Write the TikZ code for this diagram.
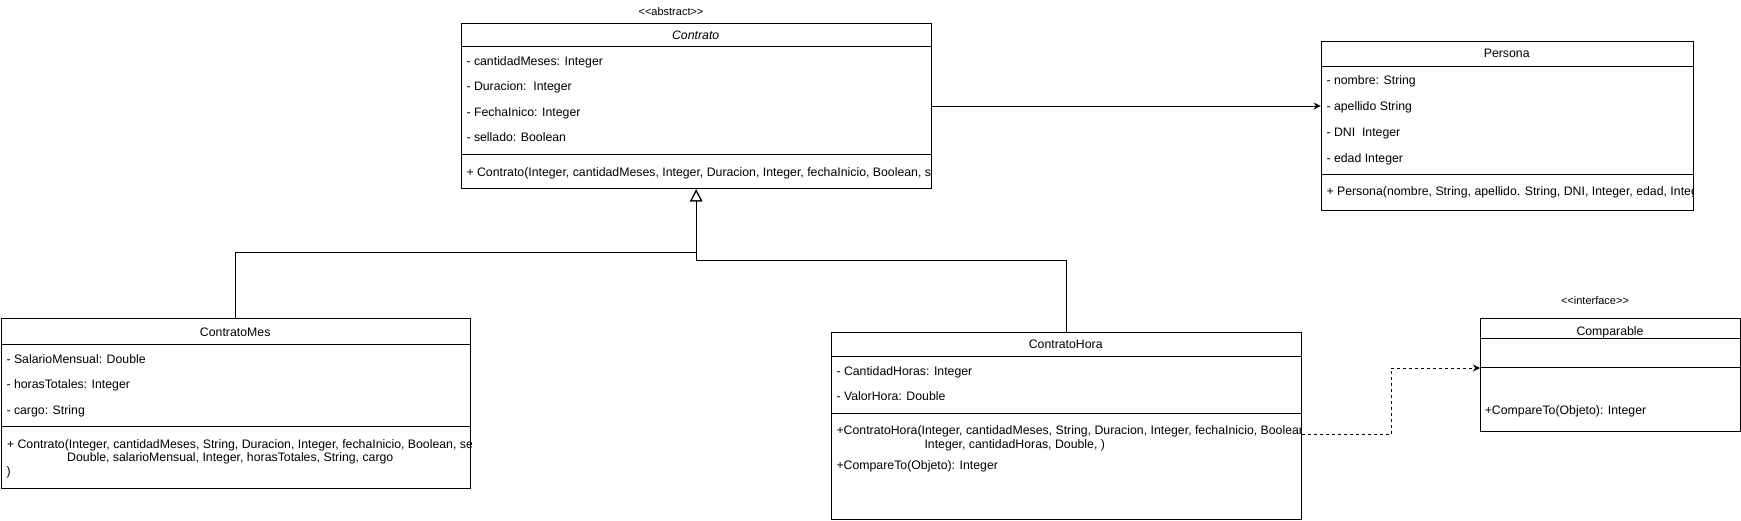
\documentclass[tikz,border=0pt]{standalone}
\usepackage{fontspec}
\setmainfont{Liberation Sans}
\usetikzlibrary{arrows.meta}

\begin{document}
\begin{tikzpicture}[x=1pt,y=-1pt,line width=1pt,
    caja/.style={draw,rectangle,anchor=north west,inner sep=0pt},
    txt/.style={anchor=west,inner sep=0pt,yshift=-1.5pt,font=\fontsize{12.3}{14}\selectfont,text height=9pt,text depth=2.5pt},
    titulo/.style={inner sep=0pt,yshift=-1pt,font=\fontsize{12.3}{14}\selectfont,text height=9pt,text depth=2.5pt},
    herencia/.style={-{Triangle[open,length=12pt,width=12pt]}},
    asoc/.style={-{Stealth[length=7pt,width=7pt]}},
    realiza/.style={dash pattern=on 3pt off 3pt,-{Stealth[length=7pt,width=7pt]}}]
  \useasboundingbox (0,0) rectangle (1741,520);

  \node[caja,minimum width=470pt,minimum height=165.6pt] (contrato) at (460.7,22.7) {};
  \node[caja,minimum width=372pt,minimum height=169.3pt] (persona) at (1320.7,40.7) {};
  \node[caja,minimum width=469.5pt,minimum height=170pt] (cmes) at (0.5,318.3) {};
  \node[caja,minimum width=470pt,minimum height=187.6pt] (chora) at (830.7,331.7) {};
  \node[caja,minimum width=260pt,minimum height=112.4pt] (comparable) at (1480,318.3) {};

  \draw (460.7,46) -- (930.7,46) (460.7,154.7) -- (930.7,154.7);
  \draw (1320.7,66) -- (1692.7,66) (1320.7,174.3) -- (1692.7,174.3);
  \draw (0.5,344.3) -- (470,344.3) (0.5,426.7) -- (470,426.7);
  \draw (830.7,356.7) -- (1300.7,356.7) (830.7,413.3) -- (1300.7,413.3);
  \draw (1480,338.3) -- (1740,338.3) (1480,367.3) -- (1740,367.3);

  \node[titulo] (abstracto) at (671,11) {\fontsize{11}{13}\selectfont <\kern0pt<abstract>\kern0pt>};
  \node[titulo] (interfaz) at (1595,300) {\fontsize{11}{13}\selectfont <\kern0pt<interface>\kern0pt>};

  \begin{scope}
    \clip (contrato.north west) rectangle (contrato.south east);
    \node[titulo] (tcontrato) at (695.7,35) {\itshape Contrato};
    \node[txt] (ca1) at (466,60.3) {- cantidadMeses: Integer};
    \node[txt] (ca2) at (466,86) {- Duracion:\ \ Integer};
    \node[txt] (ca3) at (466,111.7) {- FechaInico: Integer};
    \node[txt] (ca4) at (466,137) {- sellado: Boolean};
    \node[txt] (cm1) at (466,172) {+ Contrato(Integer, cantidadMeses, Integer, Duracion, Integer, fechaInicio, Boolean, s};
  \end{scope}

  \begin{scope}
    \clip (persona.north west) rectangle (persona.south east);
    \node[titulo] (tpersona) at (1506.7,53.5) {Persona};
    \node[txt] (pa1) at (1326,80) {- nombre: String};
    \node[txt] (pa2) at (1326,106) {- apellido String};
    \node[txt] (pa3) at (1326,131.7) {- DNI\ \ Integer};
    \node[txt] (pa4) at (1326,157.7) {- edad Integer};
    \node[txt] (pm1) at (1326,191) {+ Persona(nombre, String, apellido. String, DNI, Integer, edad, Integ};
  \end{scope}

  \begin{scope}
    \clip (cmes.north west) rectangle (cmes.south east);
    \node[titulo] (tcmes) at (235.2,332) {ContratoMes};
    \node[txt] (ma1) at (6,358.3) {- SalarioMensual: Double};
    \node[txt] (ma2) at (6,384) {- horasTotales: Integer};
    \node[txt] (ma3) at (6,409.3) {- cargo: String};
    \node[txt] (mm1) at (6.5,443.5) {+ Contrato(Integer, cantidadMeses, String, Duracion, Integer, fechaInicio, Boolean, se};
    \node[txt] (mm2) at (66.7,457) {Double, salarioMensual, Integer, horasTotales, String, cargo};
    \node[txt] (mm3) at (6,470.5) {)};
  \end{scope}

  \begin{scope}
    \clip (chora.north west) rectangle (chora.south east);
    \node[titulo] (tchora) at (1065.7,344.5) {ContratoHora};
    \node[txt] (ha1) at (836,370.5) {- CantidadHoras: Integer};
    \node[txt] (ha2) at (836,396) {- ValorHora: Double};
    \node[txt] (hm1) at (836,430) {+ContratoHora(Integer, cantidadMeses, String, Duracion, Integer, fechaInicio, Boolean};
    \node[txt] (hm2) at (924,443.5) {Integer, cantidadHoras, Double, )};
    \node[txt] (hm3) at (836,465) {+CompareTo(Objeto): Integer};
  \end{scope}

  \begin{scope}
    \clip (comparable.north west) rectangle (comparable.south east);
    \node[titulo] (tcomparable) at (1610,331) {Comparable};
    \node[txt] (km1) at (1484.3,409.3) {+CompareTo(Objeto): Integer};
  \end{scope}

  \coordinate (codo1) at (0,252.7);
  \coordinate (codo2) at (0,260);
  \draw[asoc] (contrato.east) -- (contrato.east -| persona.west);
  \draw[herencia] (cmes.north) -- (cmes.north |- codo1) -| (contrato.south);
  \draw[herencia] (chora.north) -- (chora.north |- codo2) -| (contrato.south);
  \draw[realiza] ([yshift=-8.5pt]chora.east) -- ++(89.6,0) |- ([yshift=7pt]comparable.west);
\end{tikzpicture}
\end{document}
